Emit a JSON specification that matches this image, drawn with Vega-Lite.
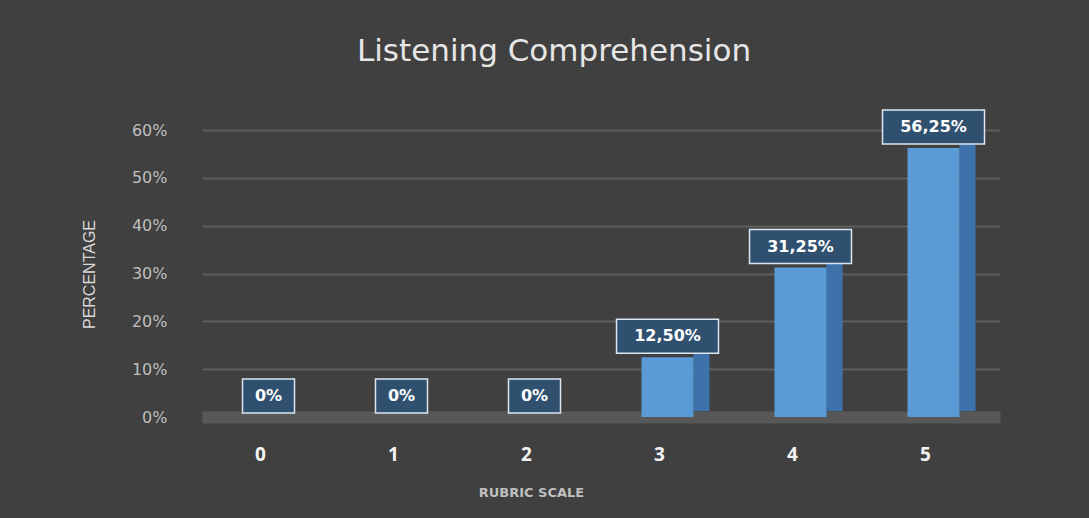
{
  "$schema": "https://vega.github.io/schema/vega-lite/v6.json",
  "autosize": {"type": "none"},
  "padding": {"left": 202, "top": 130, "right": 89, "bottom": 101},
  "width": 798,
  "height": 287,
  "background": "#404040",
  "title": {
    "text": "Listening Comprehension",
    "fontSize": 31,
    "font": "DejaVu Sans",
    "fontWeight": "normal",
    "color": "#E7E6E6",
    "anchor": "middle",
    "dx": -47,
    "baseline": "alphabetic",
    "offset": 15
  },
  "data": {
    "values": [
      {"score": "0", "value": 0, "label": "0%"},
      {"score": "1", "value": 0, "label": "0%"},
      {"score": "2", "value": 0, "label": "0%"},
      {"score": "3", "value": 0.125, "label": "12,50%"},
      {"score": "4", "value": 0.3125, "label": "31,25%"},
      {"score": "5", "value": 0.5625, "label": "56,25%"}
    ]
  },
  "encoding": {
    "x": {
      "field": "score",
      "type": "nominal",
      "scale": {"paddingInner": 0, "paddingOuter": 0},
      "axis": {
        "title": "RUBRIC SCALE",
        "labelAngle": 0,
        "labelFont": "Open Sans",
        "labelFontSize": 19,
        "labelFontWeight": "bold",
        "labelColor": "#F2F2F2",
        "labelPadding": 28,
        "labelOffset": -8,
        "domain": false,
        "ticks": false,
        "titleFont": "DejaVu Sans",
        "titleFontSize": 13,
        "titleFontWeight": "bold",
        "titleColor": "#BFBFBF",
        "titleX": 329,
        "titlePadding": 22
      }
    },
    "y": {
      "field": "value",
      "type": "quantitative",
      "scale": {"domain": [0, 0.6]},
      "axis": {
        "title": "PERCENTAGE",
        "values": [0, 0.1, 0.2, 0.3, 0.4, 0.5, 0.6],
        "format": "0%",
        "domain": false,
        "ticks": false,
        "labelFont": "DejaVu Sans",
        "labelFontSize": 16,
        "labelColor": "#BFBFBF",
        "labelPadding": 35,
        "gridColor": {"condition": {"test": "datum.value === 0", "value": "#585858"}, "value": "#5F5F5F"},
        "gridWidth": {"condition": {"test": "datum.value === 0", "value": 12}, "value": 2},
        "titleFont": "Liberation Sans",
        "titleFontSize": 16,
        "titleFontWeight": "normal",
        "titleColor": "#D9D9D9",
        "titleX": -113,
        "titleY": 144,
        "titleBaseline": "middle",
        "titleAngle": -90
      }
    }
  },
  "layer": [
    {
      "mark": {"type": "bar", "width": 16, "xOffset": 34, "yOffset": -6, "color": "#3E72AB"}
    },
    {
      "mark": {"type": "bar", "width": 52, "color": "#5B9BD5"}
    },
    {
      "mark": {
        "type": "point",
        "filled": true,
        "fill": "#30506F",
        "stroke": "#DCE6F0",
        "strokeWidth": 1.5,
        "opacity": 1,
        "fillOpacity": 1,
        "size": 10609,
        "yOffset": -21
      },
      "encoding": {
        "shape": {
          "condition": {"test": "datum.value > 0", "value": "M-0.99,-0.33H0.99V0.33H-0.99Z"},
          "value": "M-0.505,-0.33H0.505V0.33H-0.505Z"
        }
      }
    },
    {
      "mark": {
        "type": "text",
        "font": "DejaVu Sans",
        "fontSize": 16,
        "fontWeight": "bold",
        "color": "#FFFFFF",
        "baseline": "middle",
        "yOffset": -21
      },
      "encoding": {"text": {"field": "label"}}
    }
  ],
  "config": {"view": {"stroke": null}}
}
